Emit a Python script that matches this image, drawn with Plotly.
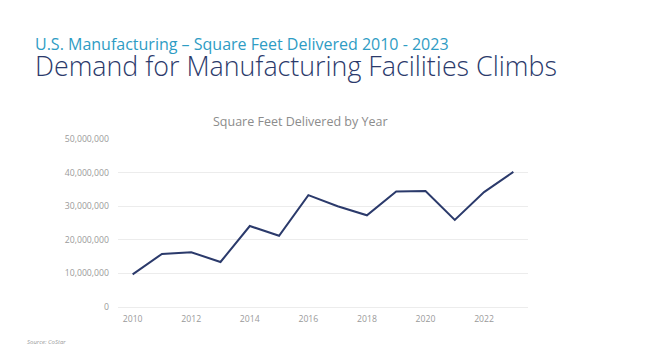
import plotly.graph_objects as go

years = list(range(2010, 2024))
sqft = [9.7e6, 15.8e6, 16.3e6, 13.4e6, 24.1e6, 21.2e6, 33.3e6, 30.0e6,
        27.3e6, 34.4e6, 34.5e6, 25.9e6, 34.2e6, 40.2e6]

subtitle = "U.S. Manufacturing – Square Feet Delivered 2010 - 2023"
headline = "Demand for Manufacturing Facilities Climbs"
chart_title = "Square Feet Delivered by Year"
source = "Source: CoStar"

navy = "#2b3a6b"
teal = "#2e9cc4"
grey = "#9a9a9a"

# page has an 8px body margin; figure sized to fit inside the window
OFF = 8
W, H = 645 - OFF, 362 - OFF
L, R, T, B = 110, 117, 131, 55
pw, ph = W - L - R, H - T - B


def px(x):
    return (x - OFF - L) / pw


def py(y):
    return (H - B - (y - OFF)) / ph


title_block = (
    f'<span style="font-size:16px;color:{teal}">{subtitle}</span><br>'
    f'<span style="font-size:26.8px;color:{navy};font-weight:300">{headline}</span>'
)

fig = go.Figure()
fig.add_trace(go.Scatter(x=years, y=sqft, mode="lines",
                         line=dict(color=navy, width=2), hoverinfo="x+y"))

fig.update_layout(
    width=W, height=H,
    margin=dict(l=L, r=R, t=T, b=B),
    paper_bgcolor="white", plot_bgcolor="white",
    showlegend=False,
    font=dict(family="Open Sans", color=grey),
    xaxis=dict(range=[2009.5, 2023.5], tickmode="linear", tick0=2010, dtick=2,
               showgrid=False, zeroline=False, showline=False, ticks="",
               tickfont=dict(size=8.7, color=grey), ticklabelstandoff=5),
    yaxis=dict(range=[0, 50e6], dtick=10e6, tickformat=",",
               showgrid=True, gridcolor="#ececec", gridwidth=1,
               zeroline=True, zerolinecolor="#ececec", zerolinewidth=1,
               showline=False, ticks="", tickfont=dict(size=8.7, color=grey),
               ticklabelstandoff=8),
    annotations=[
        dict(text=title_block, xref="paper", yref="paper", x=px(33), y=py(31),
             xanchor="left", yanchor="top", align="left", showarrow=False,
             font=dict(family="Open Sans", size=20.3, color=navy)),
        dict(text=chart_title, xref="paper", yref="paper", x=px(300), y=py(122),
             xanchor="center", yanchor="middle", showarrow=False,
             font=dict(family="Open Sans", size=12.5, color="#8c8c8c")),
        dict(text="<i>" + source + "</i>", xref="paper", yref="paper",
             x=px(25), y=py(342),
             xanchor="left", yanchor="middle", showarrow=False,
             font=dict(family="Open Sans", size=6, color=grey)),
    ],
)

fig.write_html("out.html")
